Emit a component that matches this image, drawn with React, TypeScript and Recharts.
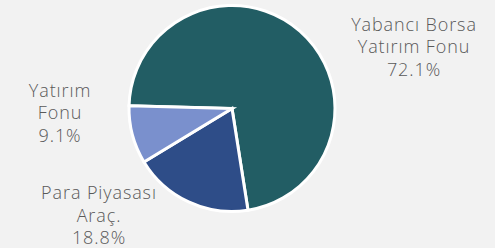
import { Cell, Pie, PieChart } from 'recharts'

const names = ['Yabancı Borsa Yatırım Fonu', 'Para Piyasası Araç.', 'Yatırım Fonu']
const shares = [72.1, 18.8, 9.1]
const labelLines = [
  ['Yabancı Borsa', 'Yatırım Fonu', '72.1%'],
  ['Para Piyasası', 'Araç.', '18.8%'],
  ['Yatırım', 'Fonu', '9.1%'],
]
const colors = ['#225d64', '#2e4d88', '#7a90cd']

const data = names.map((name, i) => ({ name, value: shares[i] }))

// where each label block sits, relative to the pie centre (first baseline)
const labelOffsets = [
  { dx: 182, dy: -78 },
  { dx: -133, dy: 90.5 },
  { dx: -172, dy: -12 },
]

function renderLabel(props: any) {
  const { cx, cy, index } = props
  const off = labelOffsets[index]
  const lines = labelLines[index]
  return (
    <text
      x={cx + off.dx}
      y={cy + off.dy}
      textAnchor="middle"
      fill="#595959"
      fontSize={18}
      fontWeight={300}
      fontFamily="'Open Sans', sans-serif"
      letterSpacing={0.9}
    >
      {lines.map((line, i) => (
        <tspan key={i} x={cx + off.dx} dy={i === 0 ? 0 : 22.7}>
          {line}
        </tspan>
      ))}
    </text>
  )
}

export default function App() {
  return (
    <div
      style={{
        position: 'fixed',
        left: 0,
        top: 0,
        width: 495,
        height: 248,
        background: '#f2f2f2',
      }}
    >
      <PieChart width={495} height={248} margin={{ top: 0, right: 0, bottom: 0, left: 0 }}>
        <Pie
          data={data}
          dataKey="value"
          nameKey="name"
          cx={232}
          cy={108.5}
          outerRadius={103}
          startAngle={178.5}
          endAngle={178.5 - 360}
          stroke="#ffffff"
          strokeWidth={3}
          label={renderLabel}
          labelLine={false}
          isAnimationActive={false}
        >
          {data.map((d, i) => (
            <Cell key={d.name} fill={colors[i]} />
          ))}
        </Pie>
      </PieChart>
    </div>
  )
}
